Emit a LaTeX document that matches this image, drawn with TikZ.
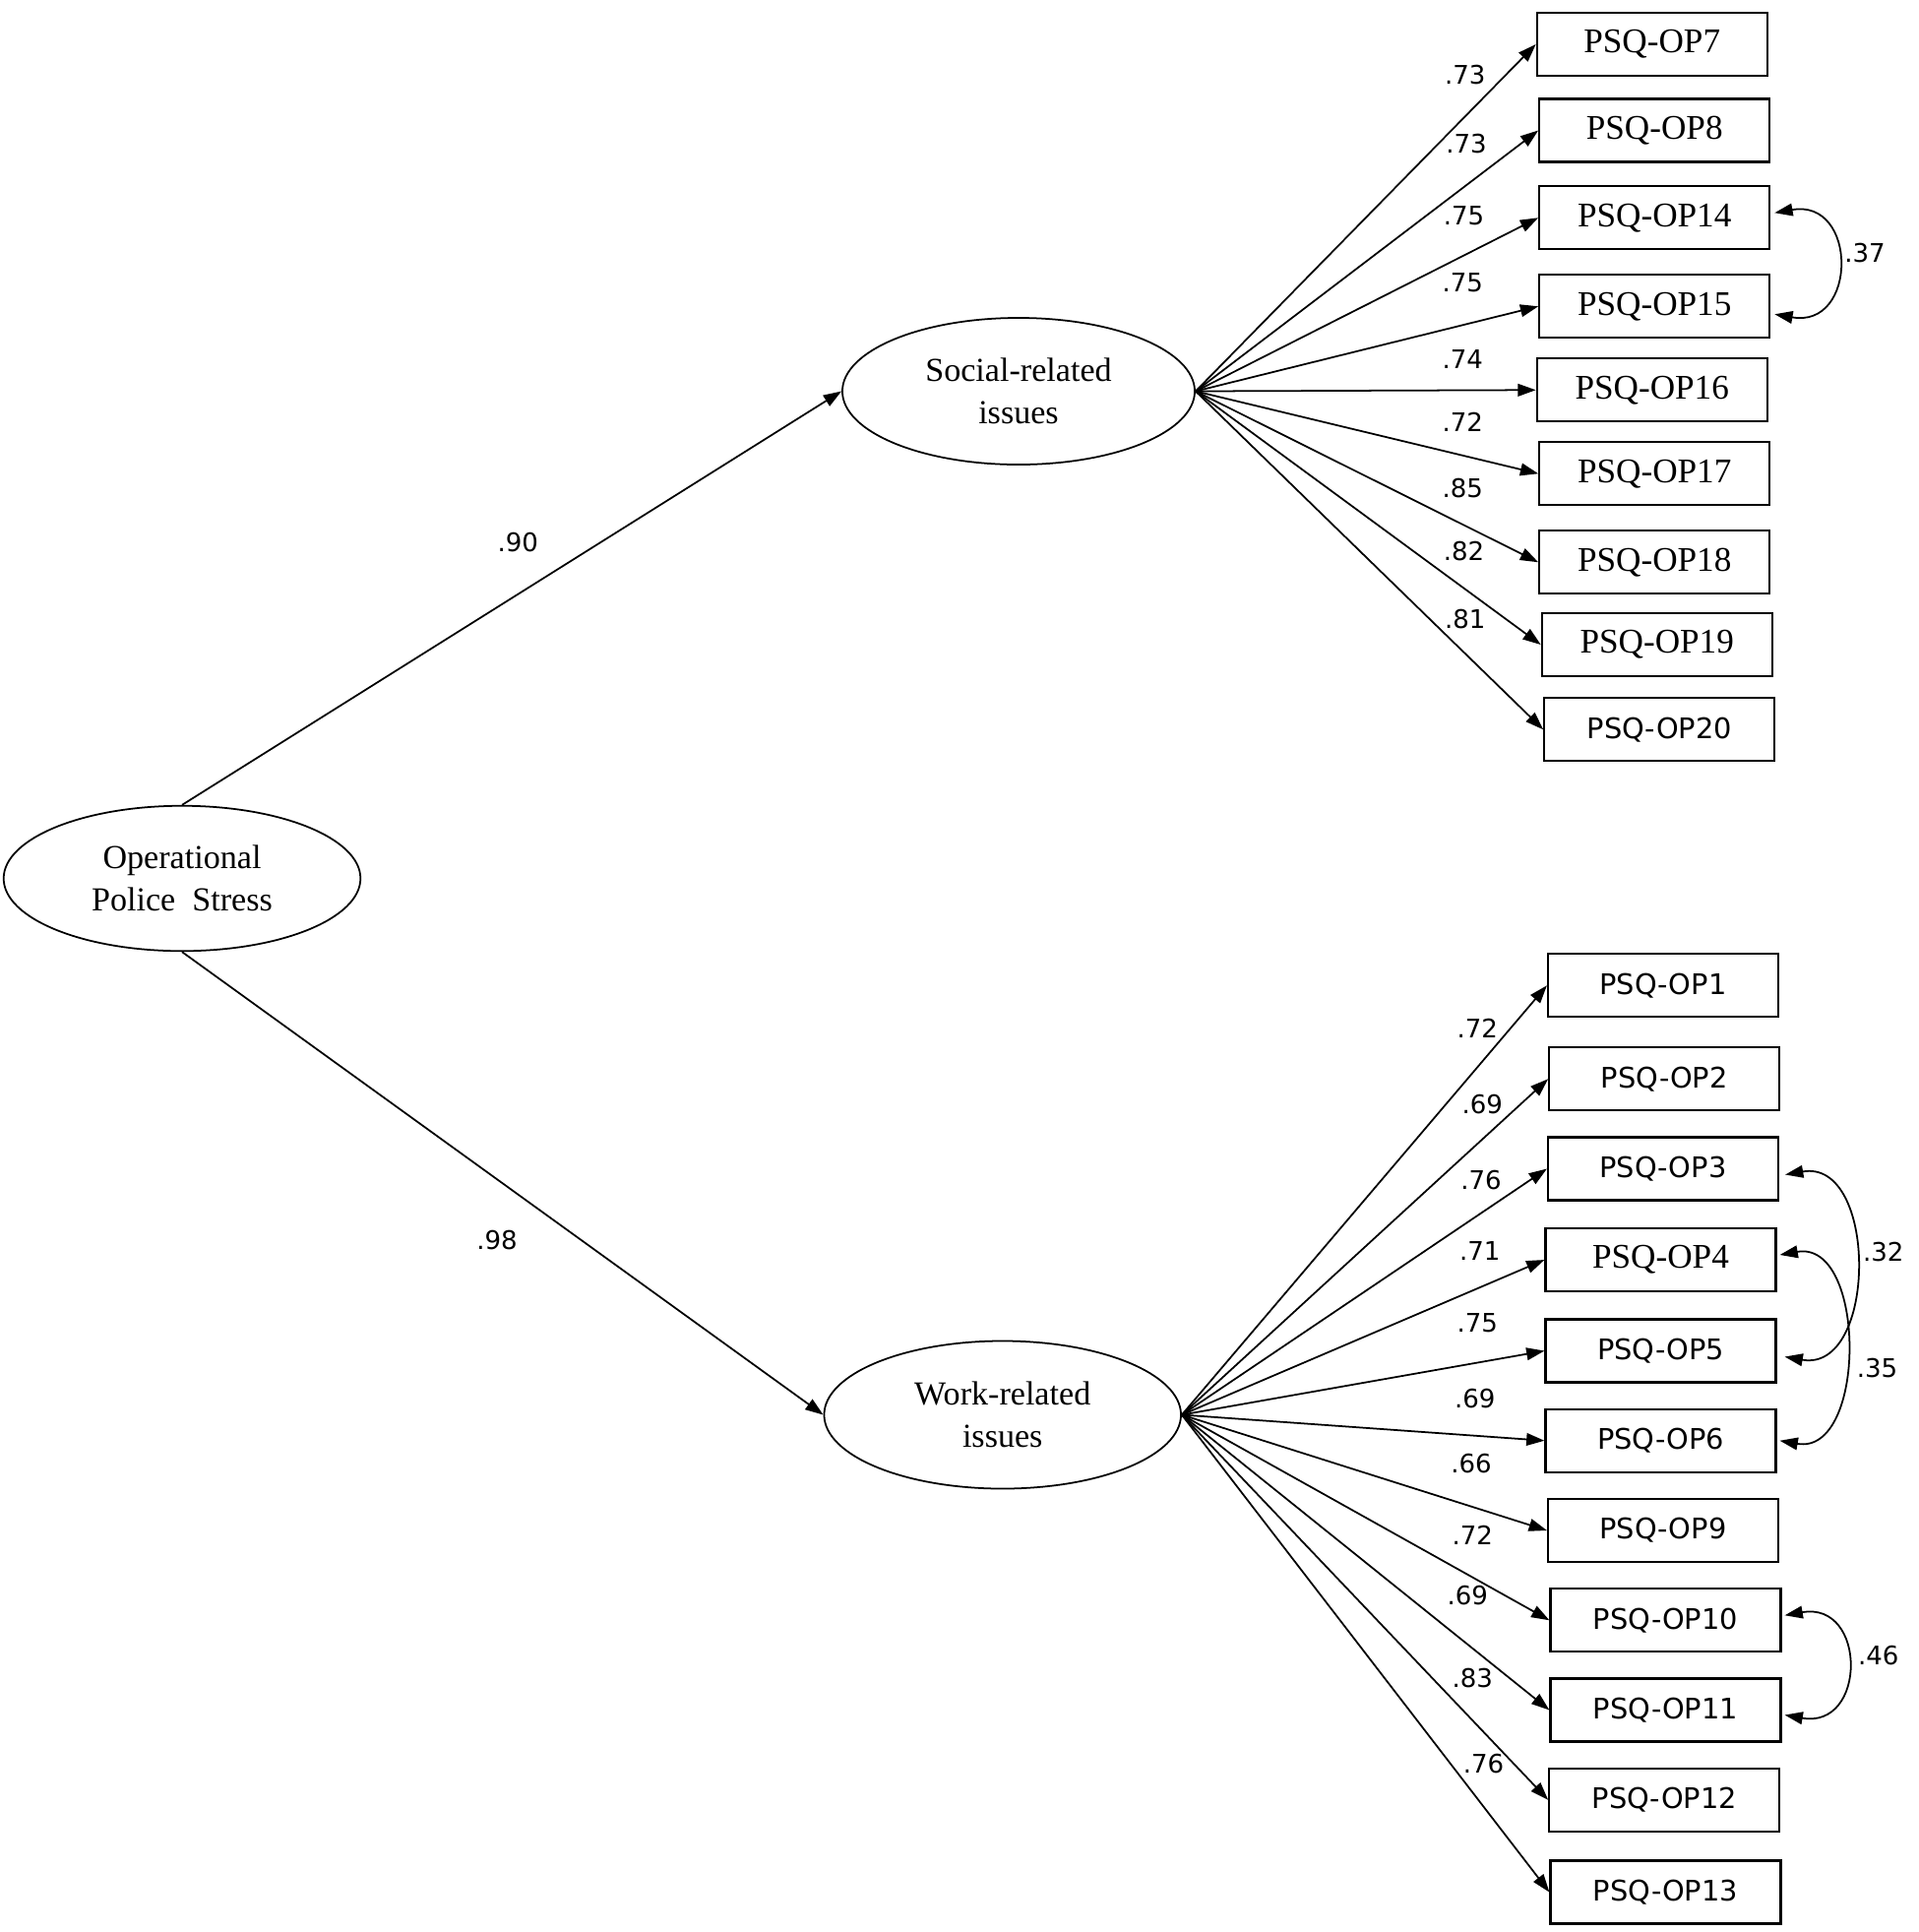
\documentclass[tikz,border=0pt]{standalone}
\usepackage{fontspec}
\setmainfont{Liberation Serif}
\newfontfamily\sansf{DejaVu Sans}
\usetikzlibrary{arrows.meta,shapes.geometric}
\begin{document}
\begin{tikzpicture}[x=0.0125cm,y=-0.0125cm,
  obs/.style={draw,line width=0.6pt,minimum width=2.34cm,minimum height=0.64cm,inner sep=0pt},
  obsS/.style={obs,font=\fontsize{10}{12}\selectfont},
  obsN/.style={obs,font=\sansf\fontsize{8.2}{10}\selectfont},
  lat/.style={draw,ellipse,line width=0.5pt,inner sep=0pt,align=center,font=\fontsize{9.7}{12.4}\selectfont},
  lbl/.style={font=\sansf\fontsize{7.4}{9}\selectfont,inner sep=0pt},
  ld/.style={line width=0.5pt,-{Triangle[length=5.2pt,width=3.6pt]}},
  cv/.style={line width=0.5pt,{Triangle[length=5.2pt,width=3.6pt]}-{Triangle[length=5.2pt,width=3.6pt]}}
]
\useasboundingbox (0,0) rectangle (1560,1570.4);

% latent variables
\node[lat,minimum width=3.625cm,minimum height=1.475cm] (ops) at (148,714) {Operational\\Police\ \ Stress};
\node[lat,minimum width=3.58cm,minimum height=1.49cm] (soc) at (828,318) {Social-related\\issues};
\node[lat,minimum width=3.625cm,minimum height=1.5cm] (work) at (815,1150) {Work-related\\issues};

% observed variables
\foreach \n/\x/\y/\s in {7/1343/36/obsS, 8/1345/106/obsS, 14/1345/177/obsS, 15/1345/249/obsS,
  16/1343/317/obsS, 17/1345/385/obsS, 18/1345/457/obsS, 19/1347/524/obsS, 20/1349/593/obsN,
  1/1352/801/obsN, 2/1353/877/obsN, 3/1352/950/obsN, 4/1350/1024/obsS, 5/1350/1098/obsN,
  6/1350/1171/obsN, 9/1352/1244/obsN, 10/1354/1317/obsN, 11/1354/1390/obsN, 12/1353/1463/obsN,
  13/1354/1538/obsN}
  \node[\s] (op\n) at (\x,\y) {PSQ-OP\n};

% second-order paths
\draw[ld] (ops.north) -- (soc.west);
\draw[ld] (ops.south) -- (work.west);
\node[lbl] (l90) at (421,441) {.90};
\node[lbl] (l98) at (404,1008) {.98};

% loadings
\foreach \n in {7,8,14,15,16,17,18,19,20}
  \draw[ld] (soc.east) -- (op\n.west);
\foreach \n in {1,2,3,4,5,6,9,10,11,12,13}
  \draw[ld] (work.east) -- (op\n.west);

\foreach \n/\x/\y/\t in {7/1191/61/.73, 8/1192/117/.73, 14/1190/175/.75, 15/1189/230/.75,
  16/1189/292/.74, 17/1189/343/.72, 18/1189/397/.85, 19/1190/448/.82, 20/1191/503/.81,
  1/1201/836/.72, 2/1205/898/.69, 3/1204/959/.76, 4/1203/1017/.71, 5/1201/1075/.75,
  6/1199/1137/.69, 9/1196/1190/.66, 10/1197/1248/.72, 11/1193/1297/.69, 12/1197/1364/.83,
  13/1206/1434/.76}
  \node[lbl] (w\n) at (\x,\y) {\t};

% error covariances
\draw[cv] ([xshift=0.04cm,yshift=0.05cm]op14.east) to[out=10,in=-10,distance=0.86cm] ([xshift=0.04cm,yshift=-0.08cm]op15.east);
\draw[cv] ([xshift=0.06cm,yshift=-0.06cm]op3.east) to[out=10,in=-10,distance=0.96cm] ([xshift=0.08cm,yshift=-0.06cm]op5.east);
\draw[cv] ([xshift=0.03cm,yshift=0.05cm]op4.east) to[out=10,in=-10,distance=0.9cm] ([xshift=0.03cm]op6.east);
\draw[cv] ([xshift=0.03cm,yshift=0.05cm]op10.east) to[out=10,in=-10,distance=0.85cm] ([xshift=0.03cm,yshift=-0.05cm]op11.east);

\node[lbl] (c37) at (1516,206) {.37};
\node[lbl] (c32) at (1531,1018) {.32};
\node[lbl] (c35) at (1526,1112) {.35};
\node[lbl] (c46) at (1527,1346) {.46};
\end{tikzpicture}
\end{document}
